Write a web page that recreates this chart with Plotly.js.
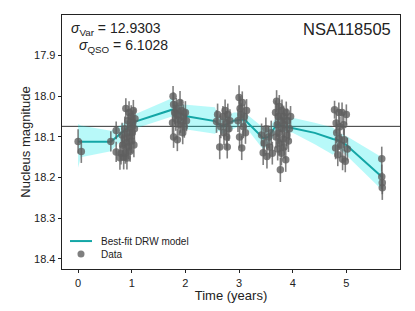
<!DOCTYPE html>
<html>
<head>
<meta charset="utf-8">
<script src="https://cdn.plot.ly/plotly-3.0.1.min.js"></script>
<style>html,body{margin:0;padding:0;background:#fff;}#chart{width:415px;height:311px;}</style>
</head>
<body>
<div id="chart"></div>
<script>
// Best-fit DRW model (time in years, magnitude, band edges)
const modelTime = [0.00,0.05,0.61,0.72,0.85,1.05,1.75,1.85,2.02,2.55,2.62,2.68,2.83,2.90,3.07,3.12,3.45,3.55,3.70,4.00,4.41,4.75,4.85,5.00,5.66];
const modelMag  = [18.111,18.112,18.112,18.100,18.085,18.063,18.033,18.040,18.049,18.061,18.068,18.074,18.065,18.060,18.057,18.060,18.103,18.100,18.070,18.078,18.090,18.105,18.108,18.120,18.198];
const modelUpper= [18.068,18.072,18.085,18.078,18.065,18.045,18.005,18.020,18.021,18.027,18.050,18.055,18.045,18.040,18.040,18.042,18.077,18.080,18.050,18.053,18.065,18.077,18.090,18.098,18.150];
const modelLower= [18.176,18.150,18.135,18.120,18.105,18.080,18.050,18.060,18.082,18.092,18.085,18.092,18.085,18.080,18.070,18.075,18.131,18.120,18.085,18.090,18.118,18.144,18.128,18.145,18.230];

// Observed data
const dataTime = [0.00,0.06,
 0.61,0.71,0.71,0.78,0.80,0.82,0.83,0.85,0.86,0.87,0.88,0.89,0.90,0.91,0.92,0.93,0.94,0.95,0.96,0.97,0.98,0.99,1.00,1.01,1.02,1.03,1.04,1.05,1.06,
 1.76,1.77,1.78,1.78,1.80,1.82,1.83,1.85,1.86,1.88,1.90,1.91,1.93,1.95,1.96,1.98,2.00,2.02,
 2.58,2.60,2.64,2.66,2.70,2.72,2.74,2.76,2.77,2.78,2.79,2.81,2.83,
 2.98,3.00,3.01,3.02,3.04,3.05,3.06,3.08,3.10,3.12,3.14,
 3.42,3.45,3.47,3.50,3.52,3.55,3.57,3.60,3.62,
 3.68,3.69,3.70,3.71,3.72,3.73,3.74,3.75,3.76,3.77,3.78,3.79,3.80,3.81,3.82,3.83,3.84,3.85,3.87,3.88,3.89,3.90,3.92,3.94,3.96,
 4.78,4.80,4.81,4.82,4.84,4.86,4.87,4.88,4.90,4.92,4.93,4.95,4.96,4.98,5.00,5.02,
 5.66,5.66,5.67,5.67];
const dataMag = [18.111,18.136,
 18.111,18.084,18.137,18.151,18.140,18.095,18.120,18.150,18.105,18.080,18.140,18.030,18.115,18.152,18.090,18.060,18.125,18.040,18.100,18.135,18.075,18.050,18.110,18.090,18.065,18.035,18.120,18.080,18.055,
 18.065,18.000,18.020,18.100,18.040,18.055,18.030,18.107,18.045,18.070,18.015,18.060,18.035,18.090,18.050,18.075,18.040,18.060,
 18.062,18.045,18.125,18.075,18.050,18.090,18.035,18.065,18.100,18.125,18.045,18.080,18.060,
 18.060,18.003,18.100,18.030,18.045,18.127,18.015,18.075,18.050,18.090,18.035,
 18.095,18.139,18.115,18.080,18.148,18.100,18.125,18.090,18.140,
 18.040,18.100,18.012,18.070,18.130,18.050,18.090,18.025,18.115,18.181,18.060,18.140,18.035,18.080,18.105,18.050,18.125,18.070,18.156,18.040,18.095,18.060,18.110,18.080,18.050,
 18.033,18.127,18.066,18.090,18.144,18.040,18.105,18.075,18.120,18.040,18.155,18.070,18.107,18.160,18.045,18.130,
 18.154,18.198,18.213,18.225];
const dataErr = [0.030,0.028,
 0.025,0.022,0.025,0.030,0.028,0.030,0.027,0.030,0.028,0.030,0.026,0.025,0.030,0.028,0.030,0.027,0.030,0.028,0.030,0.026,0.030,0.028,0.030,0.027,0.030,0.026,0.030,0.025,0.025,
 0.028,0.025,0.030,0.027,0.028,0.030,0.026,0.028,0.030,0.027,0.028,0.030,0.026,0.028,0.030,0.027,0.028,0.026,
 0.028,0.027,0.030,0.028,0.026,0.030,0.027,0.028,0.030,0.028,0.027,0.030,0.028,
 0.028,0.030,0.027,0.030,0.028,0.030,0.027,0.028,0.030,0.027,0.028,
 0.028,0.030,0.027,0.028,0.030,0.028,0.027,0.030,0.028,
 0.030,0.028,0.027,0.030,0.028,0.030,0.027,0.028,0.030,0.030,0.028,0.030,0.027,0.028,0.030,0.027,0.028,0.030,0.030,0.027,0.028,0.030,0.027,0.028,0.026,
 0.022,0.028,0.025,0.026,0.028,0.025,0.027,0.026,0.028,0.025,0.027,0.026,0.028,0.027,0.025,0.028,
 0.030,0.030,0.028,0.030];

const meanMag = 18.074;
const xTicks = [0,1,2,3,4,5];
const yTicks = [17.9,18.0,18.1,18.2,18.3,18.4];
const yTickText = ['17.9','18.0','18.1','18.2','18.3','18.4'];
const legendLabels = ['Best-fit DRW model','Data'];

const FONT = 'Liberation Sans, Arial, Helvetica, sans-serif';
const LINE_COLOR = '#13a6a6';
const DATA_COLOR = 'rgba(95,95,95,0.8)';

const traces = [
  {x: modelTime, y: modelUpper, type:'scatter', mode:'lines', line:{width:0, color:'rgba(0,0,0,0)'}, showlegend:false, hoverinfo:'skip'},
  {x: modelTime, y: modelLower, type:'scatter', mode:'lines', line:{width:0, color:'rgba(0,0,0,0)'}, fill:'tonexty', fillcolor:'rgba(0,235,235,0.28)', showlegend:false, hoverinfo:'skip'},
  {x: modelTime, y: modelMag, type:'scatter', mode:'lines', name:legendLabels[0], showlegend:false, line:{color:LINE_COLOR, width:2}},
  {x: dataTime, y: dataMag, type:'scatter', mode:'markers', name:legendLabels[1], showlegend:false,
   marker:{color:DATA_COLOR, size:7.5},
   error_y:{type:'data', array:dataErr, visible:true, color:DATA_COLOR, thickness:1.6, width:0}}
];

// manual legend (paper coords of plot area)
const lgY1 = 0.110, lgY2 = 0.059;
const layout = {
  width:415, height:311,
  margin:{l:62, r:15, t:15, b:42},
  paper_bgcolor:'#fff', plot_bgcolor:'#fff',
  font:{family:FONT, color:'#222', size:11},
  showlegend:false,
  xaxis:{range:[-0.3,6.0], tickvals:xTicks, ticks:'outside', ticklen:3, tickwidth:1, tickcolor:'#222',
    showgrid:false, zeroline:false, showline:true, linecolor:'#222', linewidth:1.3, mirror:true,
    title:{text:'Time (years)', font:{size:13, family:FONT, color:'#222'}, standoff:1}},
  yaxis:{range:[18.425,17.80], tickvals:yTicks, ticktext:yTickText, ticks:'outside', ticklen:3, tickwidth:1, tickcolor:'#222',
    showgrid:false, zeroline:false, showline:true, linecolor:'#222', linewidth:1.3, mirror:true,
    title:{text:'Nucleus magnitude', font:{size:13, family:FONT, color:'#222'}, standoff:0}},
  shapes:[
    {type:'line', xref:'paper', x0:0, x1:1, yref:'y', y0:meanMag, y1:meanMag, line:{color:'#333', width:1}, layer:'below'},
    {type:'line', xref:'paper', yref:'paper', x0:0.0237, x1:0.0888, y0:lgY1, y1:lgY1, line:{color:LINE_COLOR, width:2}},
    {type:'circle', xref:'paper', yref:'paper', x0:0.0562-0.0104, x1:0.0562+0.0104, y0:lgY2-0.0138, y1:lgY2+0.0138, fillcolor:DATA_COLOR, line:{width:0}}
  ],
  annotations:[
    {xref:'paper', yref:'paper', x:0.02, y:0.99, xanchor:'left', yanchor:'top', showarrow:false,
     text:'<i>σ</i><sub>Var</sub> = 12.9303', font:{size:14, family:FONT, color:'#222'}},
    {xref:'paper', yref:'paper', x:0.045, y:0.92, xanchor:'left', yanchor:'top', showarrow:false,
     text:'<i>σ</i><sub>QSO</sub> = 6.1028', font:{size:14, family:FONT, color:'#222'}},
    {xref:'paper', yref:'paper', x:0.98, y:0.99, xanchor:'right', yanchor:'top', showarrow:false,
     text:'NSA118505', font:{size:16.5, family:FONT, color:'#222'}},
    {xref:'paper', yref:'paper', x:0.1095, y:lgY1, xanchor:'left', yanchor:'middle', showarrow:false,
     text:legendLabels[0], font:{size:10, family:FONT, color:'#222'}},
    {xref:'paper', yref:'paper', x:0.1095, y:lgY2, xanchor:'left', yanchor:'middle', showarrow:false,
     text:legendLabels[1], font:{size:10, family:FONT, color:'#222'}}
  ]
};

Plotly.newPlot('chart', traces, layout, {displayModeBar:false, staticPlot:true});
</script>
</body>
</html>
